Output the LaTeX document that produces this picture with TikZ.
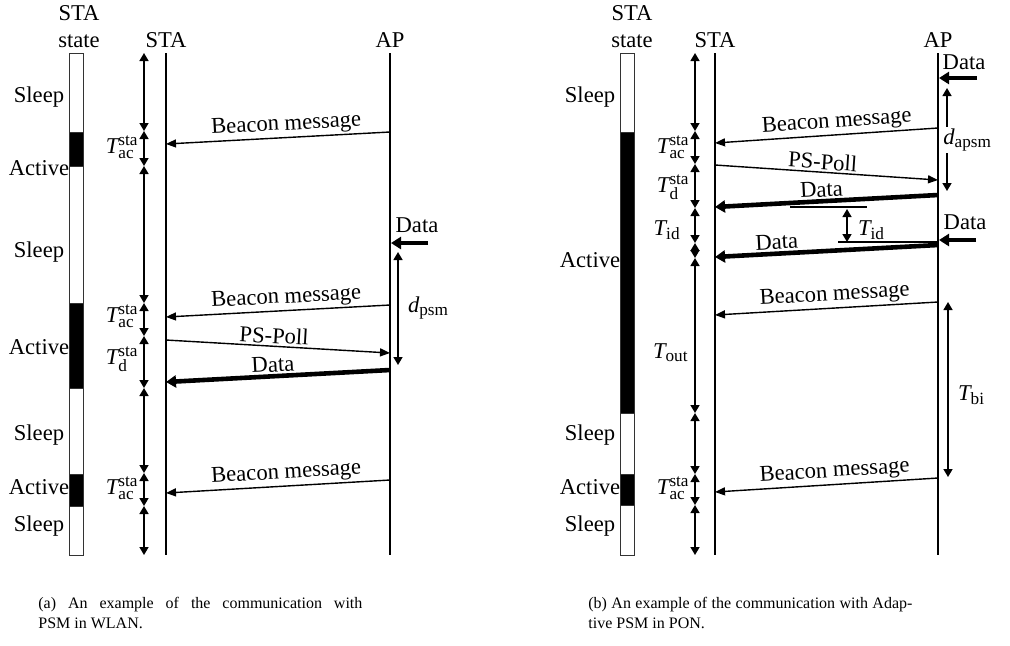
\documentclass[tikz,border=0pt]{standalone}
\usepackage{fontspec}
\setmainfont{Liberation Serif}
\usetikzlibrary{arrows.meta,calc}
\DeclareMathSizes{11.3}{11.3}{8.6}{7}

\begin{document}
\begin{tikzpicture}[
  x=0.5pt, y=-0.5pt,
  font=\fontsize{11.3}{13.5}\selectfont,
  life/.style={line width=1pt},
  statebar/.style={draw=black!80,line width=0.5pt},
  span/.style={line width=0.75pt,{Triangle[length=4pt,width=4.5pt]}-{Triangle[length=4pt,width=4.5pt]}},
  msg/.style={line width=0.7pt,-{Triangle[length=5pt,width=4pt]}},
  bulk/.style={line width=2.3pt,-{Triangle[length=5pt,width=6pt]}},
  refline/.style={line width=0.6pt},
  lbl/.style={inner sep=1pt},
  tlbl/.style={anchor=east,inner sep=0pt},
  captext/.style={font=\fontsize{8}{10}\selectfont,text width=162pt,align=justify,anchor=north west,inner sep=0pt}
]
\useasboundingbox (0,0) rectangle (1010,645);

% ---- (a) PSM in WLAN ----
\node[align=center] (hdA) at (79,27) {STA\\state};
\node (staA) at (166,40) {STA};
\node (apA) at (390,40) {AP};
\coordinate (staAt) at (166,53); \coordinate (staAb) at (166,555);
\coordinate (apAt) at (390,53);  \coordinate (apAb) at (390,555);
\draw[life] (staAt) -- (staAb);
\draw[life] (apAt) -- (apAb);

\foreach \ya/\yb/\c in {53/132/white,132/166/black,166/303/white,303/388/black,388/474/white,474/506/black,506/555/white}
  \draw[statebar,fill=\c] (69,\ya) rectangle (83,\yb);
\node (slA1) at (39,97) {Sleep};
\node (acA1) at (39,168) {Active};
\node (slA2) at (39,252) {Sleep};
\node (acA2) at (39,347) {Active};
\node (slA3) at (39,435) {Sleep};
\node (acA3) at (39,487) {Active};
\node (slA4) at (39,526) {Sleep};

\foreach \y [count=\i] in {53,131,166,303,336,388,473,506,555}
  \coordinate (ca\i) at (144,\y);
\foreach \a/\b in {1/2,2/3,3/4,4/5,5/6,6/7,7/8,8/9}
  \draw[span] (ca\a) -- (ca\b);
\node[tlbl] (tacA1) at (139,147) {$\mathit{T}^{\mathrm{sta}}_{\mathrm{ac}}$};
\node[tlbl] (tacA2) at (139,316) {$\mathit{T}^{\mathrm{sta}}_{\mathrm{ac}}$};
\node[tlbl] (tdA) at (139,359) {$\mathit{T}^{\mathrm{sta}}_{\mathrm{d}}$};
\node[tlbl] (tacA3) at (139,488) {$\mathit{T}^{\mathrm{sta}}_{\mathrm{ac}}$};

\coordinate (bA1a) at (390,132); \coordinate (bA1s) at (166,144);
\draw[msg] (bA1a) -- node[lbl,sloped,above,pos=.46] (bcA1) {Beacon message} (bA1s);
\node (dinA) at (417,225) {Data};
\coordinate (dA0) at (428,243); \coordinate (dA0a) at (391,243);
\draw[bulk] (dA0) -- (dA0a);
\coordinate (dpA1) at (398,252); \coordinate (dpA2) at (398,365);
\draw[span] (dpA1) -- (dpA2);
\node[anchor=west] (dpsm) at (401,308) {$\mathit{d}_{\mathrm{psm}}$};
\coordinate (bA2a) at (390,305); \coordinate (bA2s) at (166,317);
\draw[msg] (bA2a) -- node[lbl,sloped,above,pos=.46] (bcA2) {Beacon message} (bA2s);
\coordinate (pA1s) at (166,340); \coordinate (pA1a) at (390,353);
\draw[msg] (pA1s) -- node[lbl,sloped,above,pos=.48] (ppA) {PS-Poll} (pA1a);
\coordinate (dA1a) at (390,370); \coordinate (dA1s) at (166,382);
\draw[bulk] (dA1a) -- node[lbl,sloped,above,pos=.52] (daA) {Data} (dA1s);
\coordinate (bA3a) at (390,480); \coordinate (bA3s) at (166,493);
\draw[msg] (bA3a) -- node[lbl,sloped,above,pos=.46] (bcA3) {Beacon message} (bA3s);

\node[captext] (capA) at (38,597) {(a) An example of the communication with\linebreak PSM in WLAN.};

% ---- (b) Adaptive PSM in PON ----
\node[align=center] (hdB) at (632,27) {STA\\state};
\node (staB) at (715,40) {STA};
\node (apB) at (938,40) {AP};
\coordinate (staBt) at (715,53); \coordinate (staBb) at (715,555);
\coordinate (apBt) at (938,53);  \coordinate (apBb) at (938,555);
\draw[life] (staBt) -- (staBb);
\draw[life] (apBt) -- (apBb);

\foreach \ya/\yb/\c in {53/132/white,132/413/black,413/474/white,474/505/black,505/555/white}
  \draw[statebar,fill=\c] (620,\ya) rectangle (634,\yb);
\node (slB1) at (590,97) {Sleep};
\node (acB1) at (590,260) {Active};
\node (slB2) at (590,435) {Sleep};
\node (acB2) at (590,487) {Active};
\node (slB3) at (590,526) {Sleep};

\foreach \y [count=\i] in {53,131,164,208,243,258,413,474,505,555}
  \coordinate (cb\i) at (695,\y);
\foreach \a/\b in {1/2,2/3,3/4,4/5,5/6,6/7,7/8,8/9,9/10}
  \draw[span] (cb\a) -- (cb\b);
\node[tlbl] (tacB1) at (690,147) {$\mathit{T}^{\mathrm{sta}}_{\mathrm{ac}}$};
\node[tlbl] (tdB) at (690,187) {$\mathit{T}^{\mathrm{sta}}_{\mathrm{d}}$};
\node[tlbl] (tidB) at (681,230) {$\mathit{T}_{\mathrm{id}}$};
\node[tlbl] (toutB) at (689,353) {$\mathit{T}_{\mathrm{out}}$};
\node[tlbl] (tacB2) at (690,488) {$\mathit{T}^{\mathrm{sta}}_{\mathrm{ac}}$};

\node (dinB1) at (964,62) {Data};
\coordinate (dB0) at (977,78); \coordinate (dB0a) at (939,78);
\draw[bulk] (dB0) -- (dB0a);
\coordinate (daB1) at (947,88); \coordinate (daB2) at (947,191);
\draw[span] (daB1) -- (daB2);
\node[anchor=west,fill=white,inner sep=1pt] (dapsm) at (941,140) {$\mathit{d}_{\mathrm{apsm}}$};
\coordinate (bB1a) at (938,128); \coordinate (bB1s) at (715,143);
\draw[msg] (bB1a) -- node[lbl,sloped,above,pos=.45] (bcB1) {Beacon message} (bB1s);
\coordinate (pB1s) at (715,165); \coordinate (pB1a) at (938,180);
\draw[msg] (pB1s) -- node[lbl,sloped,above,pos=.48] (ppB) {PS-Poll} (pB1a);
\coordinate (rfB1) at (790,207); \coordinate (rfB2) at (867,207);
\draw[refline] (rfB1) -- (rfB2);
\coordinate (dB1a) at (938,195); \coordinate (dB1s) at (715,207);
\draw[bulk] (dB1a) -- node[lbl,sloped,above,pos=.52] (daB1l) {Data} (dB1s);
\coordinate (idB1) at (847,209); \coordinate (idB2) at (847,242);
\draw[span] (idB1) -- (idB2);
\node[anchor=west] (tidB2) at (851,230) {$\mathit{T}_{\mathrm{id}}$};
\coordinate (rfB3) at (838,242); \coordinate (rfB4) at (938,242);
\draw[refline] (rfB3) -- (rfB4);
\node (dinB2) at (965,222) {Data};
\coordinate (dB2) at (976,240); \coordinate (dB2a) at (939,240);
\draw[bulk] (dB2) -- (dB2a);
\coordinate (dB3a) at (938,245); \coordinate (dB3s) at (715,257);
\draw[bulk] (dB3a) -- node[lbl,sloped,above,pos=.72] (daB2l) {Data} (dB3s);
\coordinate (bB2a) at (938,302); \coordinate (bB2s) at (715,315);
\draw[msg] (bB2a) -- node[lbl,sloped,above,pos=.46] (bcB2) {Beacon message} (bB2s);
\coordinate (biB1) at (948,302); \coordinate (biB2) at (948,477);
\draw[span] (biB1) -- (biB2);
\node[anchor=west] (tbi) at (951,395) {$\mathit{T}_{\mathrm{bi}}$};
\coordinate (bB3a) at (938,478); \coordinate (bB3s) at (715,492);
\draw[msg] (bB3a) -- node[lbl,sloped,above,pos=.46] (bcB3) {Beacon message} (bB3s);

\node[captext] (capB) at (588,597) {(b) An example of the communication with Adap-\linebreak tive PSM in PON.};
\end{tikzpicture}
\end{document}
